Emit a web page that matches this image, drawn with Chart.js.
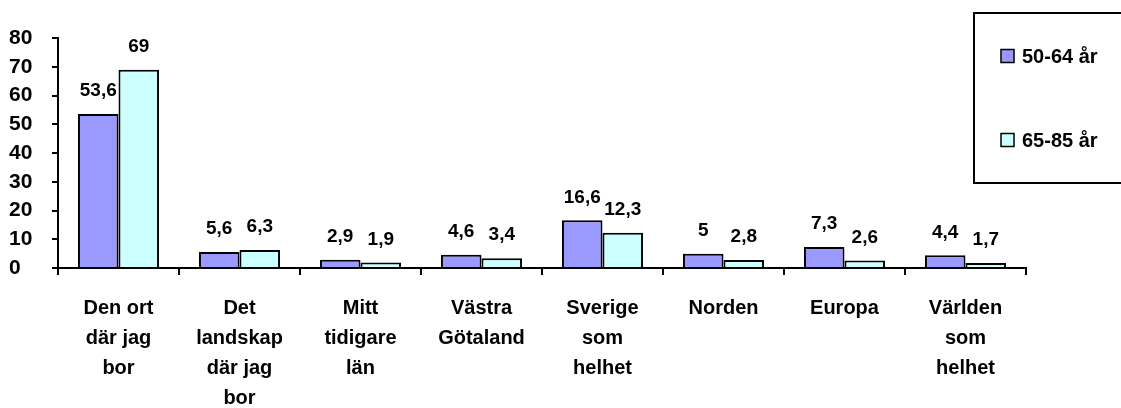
<!DOCTYPE html>
<html>
<head>
<meta charset="utf-8">
<script src="https://cdn.jsdelivr.net/npm/chart.js"></script>
<style>
  body { margin: 0; background: #fff; }
  #wrap { width: 1121px; height: 408px; }
</style>
</head>
<body>
<div id="wrap"><canvas id="myChart" width="1121" height="408"></canvas></div>
<script>
// data ------------------------------------
const categories = [
  ["Den ort", "där jag", "bor"],
  ["Det", "landskap", "där jag", "bor"],
  ["Mitt", "tidigare", "län"],
  ["Västra", "Götaland"],
  ["Sverige", "som", "helhet"],
  ["Norden"],
  ["Europa"],
  ["Världen", "som", "helhet"],
];
const seriesNames = ["50-64 år", "65-85 år"];
const age5064 = [53.6, 5.6, 2.9, 4.6, 16.6, 5, 7.3, 4.4];
const age6585 = [69, 6.3, 1.9, 3.4, 12.3, 2.8, 2.6, 1.7];
const yTicks = [0, 10, 20, 30, 40, 50, 60, 70, 80];

const FONT = "'Liberation Sans', Arial, sans-serif";

// value labels above bars ------------------------------------
const valueLabels = {
  id: "valueLabels",
  afterDatasetsDraw(chart) {
    const ctx = chart.ctx;
    ctx.save();
    ctx.font = "bold 19px " + FONT;
    ctx.fillStyle = "#000";
    ctx.textAlign = "center";
    ctx.textBaseline = "middle";
    chart.data.datasets.forEach(function (ds, i) {
      chart.getDatasetMeta(i).data.forEach(function (bar, j) {
        const txt = String(ds.data[j]).replace(".", ",");
        ctx.fillText(txt, bar.x, bar.y - 23);
      });
    });
    ctx.restore();
  },
};

// boxed legend on the right ------------------------------------
const boxLegend = {
  id: "boxLegend",
  afterDraw(chart) {
    const ctx = chart.ctx;
    const left = chart.width - 147;
    const top = 13;
    const bottom = 183;
    ctx.save();
    ctx.fillStyle = "#fff";
    ctx.fillRect(left, top, chart.width - left + 5, bottom - top);
    ctx.strokeStyle = "#000";
    ctx.lineWidth = 2;
    ctx.strokeRect(left, top, chart.width - left + 5, bottom - top);
    ctx.font = "bold 20px " + FONT;
    ctx.textBaseline = "middle";
    ctx.textAlign = "left";
    const rows = [56, 140];
    chart.data.datasets.forEach(function (ds, i) {
      const y = rows[i];
      ctx.fillStyle = ds.backgroundColor;
      ctx.fillRect(left + 27, y - 6.5, 13, 13);
      ctx.lineWidth = 1.5;
      ctx.strokeStyle = "#000";
      ctx.strokeRect(left + 27, y - 6.5, 13, 13);
      ctx.fillStyle = "#000";
      ctx.fillText(ds.label, left + 48, y + 1);
    });
    ctx.restore();
  },
};

const ctx = document.getElementById("myChart");
const chart = new Chart(ctx, {
  type: "bar",
  data: {
    labels: categories,
    datasets: [
      {
        label: seriesNames[0],
        data: age5064,
        backgroundColor: "#9999FF",
        borderColor: "#000",
        borderWidth: 2,
      },
      {
        label: seriesNames[1],
        data: age6585,
        backgroundColor: "#CCFFFF",
        borderColor: "#000",
        borderWidth: 2,
      },
    ],
  },
  options: {
    responsive: false,
    animation: false,
    events: [],
    layout: { padding: { left: 9, top: 38, right: 95, bottom: 0 } },
    plugins: {
      legend: { display: false },
      tooltip: { enabled: false },
    },
    datasets: {
      bar: { categoryPercentage: 0.67, barPercentage: 1.0 },
    },
    scales: {
      x: {
        grid: {
          offset: true,
          drawOnChartArea: false,
          color: "#000",
          lineWidth: 2,
          tickLength: 7,
        },
        border: { color: "#000", width: 2 },
        ticks: {
          color: "#000",
          font: { family: FONT, size: 20, weight: "bold", lineHeight: 1.5 },
          padding: 18,
          maxRotation: 0,
          autoSkip: false,
        },
        afterFit(scale) {
          scale.height = 140;
        },
      },
      y: {
        min: 0,
        max: 80,
        afterBuildTicks(scale) {
          scale.ticks = yTicks.map(function (v) { return { value: v }; });
        },
        grid: {
          drawOnChartArea: false,
          color: "#000",
          lineWidth: 2,
          tickLength: 6,
        },
        border: { color: "#000", width: 2 },
        ticks: {
          color: "#000",
          crossAlign: "far",
          autoSkip: false,
          font: { family: FONT, size: 21, weight: "bold" },
        },
        afterFit(scale) {
          scale.width = 49;
        },
      },
    },
  },
  plugins: [valueLabels, boxLegend],
});
</script>
</body>
</html>
